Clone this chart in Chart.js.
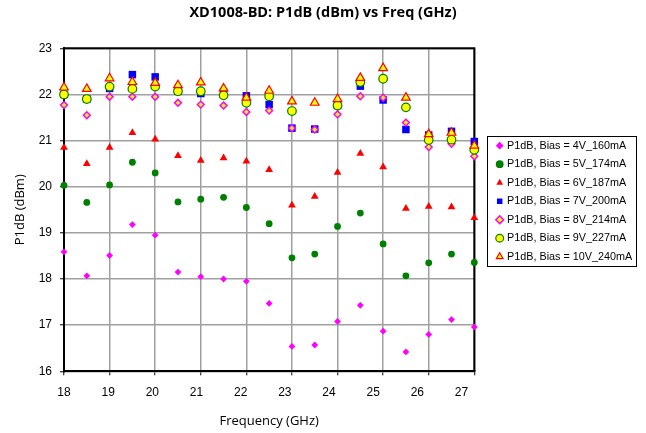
<!DOCTYPE html>
<html><head><meta charset="utf-8">
<script src="https://cdn.jsdelivr.net/npm/chart.js@4.4.1/dist/chart.umd.min.js"></script>
<style>html,body{margin:0;padding:0;background:#fff;}#wrap{width:646px;height:433px;}</style>
</head><body><div id="wrap"><canvas id="c" width="646" height="433"></canvas></div>
<script>
// ---- data ----
const freqGHz = [18, 18.5, 19, 19.5, 20, 20.5, 21, 21.5, 22, 22.5, 23, 23.5, 24, 24.5, 25, 25.5, 26, 26.5, 27];
const p1dB_4V  = [18.59, 18.07, 18.51, 19.18, 18.95, 18.15, 18.05, 18.00, 17.95, 17.47, 16.54, 16.57, 17.08, 17.43, 16.87, 16.42, 16.80, 17.12, 16.96];
const p1dB_5V  = [20.03, 19.66, 20.04, 20.53, 20.30, 19.67, 19.73, 19.77, 19.55, 19.20, 18.46, 18.54, 19.14, 19.43, 18.76, 18.07, 18.35, 18.54, 18.36];
const p1dB_6V  = [20.85, 20.50, 20.85, 21.17, 21.03, 20.67, 20.57, 20.62, 20.55, 20.37, 19.60, 19.79, 20.31, 20.72, 20.43, 19.53, 19.57, 19.56, 19.33];
const p1dB_7V  = [22.00, 21.90, 22.13, 22.43, 22.38, 22.07, 22.02, 22.05, 21.97, 21.78, 21.27, 21.25, 21.76, 22.18, 21.88, 21.24, 21.12, 21.20, 20.98];
const p1dB_8V  = [21.77, 21.55, 21.95, 21.95, 21.95, 21.82, 21.78, 21.76, 21.62, 21.65, 21.27, 21.24, 21.57, 21.96, 21.93, 21.39, 20.86, 20.93, 20.66];
const p1dB_9V  = [22.00, 21.90, 22.17, 22.12, 22.17, 22.07, 22.07, 21.98, 21.82, 21.96, 21.64, null, 21.76, 22.27, 22.34, 21.72, 21.01, 21.02, 20.80];
const p1dB_10V = [22.15, 22.12, 22.35, 22.27, 22.25, 22.20, 22.26, 22.13, 21.93, 22.08, 21.85, 21.82, 21.90, 22.36, 22.57, 21.93, 21.14, 21.17, 20.89];
const seriesLabels = [
  'P1dB, Bias = 4V_160mA', 'P1dB, Bias = 5V_174mA', 'P1dB, Bias = 6V_187mA', 'P1dB, Bias = 7V_200mA',
  'P1dB, Bias = 8V_214mA', 'P1dB, Bias = 9V_227mA', 'P1dB, Bias = 10V_240mA'
];
const xTickValues = [18, 19, 20, 21, 22, 23, 24, 25, 26, 27];
const yTickValues = [16, 17, 18, 19, 20, 21, 22, 23];
const chartTitle = 'XD1008-BD: P1dB (dBm) vs Freq (GHz)';
const xTitle = 'Frequency (GHz)';
const yTitle = 'P1dB (dBm)';

// ---- styling ----
const seriesValues = [p1dB_4V, p1dB_5V, p1dB_6V, p1dB_7V, p1dB_8V, p1dB_9V, p1dB_10V];
const markerStyles = [
  {ps: 'rectRot',  r: 3.4, bg: '#FF00FF', bc: '#FF00FF', bw: 0},
  {ps: 'circle',   r: 3.4, bg: '#008000', bc: '#008000', bw: 0},
  {ps: 'triangle', r: 4.5, bg: '#FF0000', bc: '#FF0000', bw: 0},
  {ps: 'rect',     r: 5.3, bg: '#0000FF', bc: '#0000FF', bw: 0},
  {ps: 'rectRot',  r: 3.4, bg: '#FFFF00', bc: '#FF00FF', bw: 1.5},
  {ps: 'circle',   r: 4.3, bg: '#FFFF00', bc: '#008000', bw: 1.2},
  {ps: 'triangle', r: 5.0, bg: '#FFFF00', bc: '#FF0000', bw: 1.2}
];
const tickFont = {family: "'Liberation Sans', Arial, sans-serif", size: 12};
const titleFamily = "'Open Sans', 'Liberation Sans', sans-serif";

const datasets = seriesValues.map((vals, i) => {
  const s = markerStyles[i];
  return {
    label: seriesLabels[i],
    data: freqGHz.map((f, k) => ({x: f, y: vals[k]})),
    showLine: false,
    pointStyle: s.ps,
    pointRadius: s.r,
    pointHoverRadius: s.r,
    backgroundColor: s.bg,
    borderColor: s.bc,
    pointBackgroundColor: s.bg,
    pointBorderColor: s.bc,
    pointBorderWidth: s.bw,
    borderWidth: s.bw,
    order: seriesValues.length - 1 - i,
    clip: false
  };
});

const LEGEND_W = 171.7;
const framePlugin = {
  id: 'frame',
  beforeLayout(chart) {
    const lg = chart.legend;
    if (lg && !lg._fixedW) {
      const orig = lg.fit.bind(lg);
      lg.fit = function () { orig(); this.width = LEGEND_W; };
      lg._fixedW = true;
    }
  },
  afterLayout(chart) {
    const lg = chart.legend;
    if (lg) { lg.left = 490; lg.top = 132.6; }
  },
  beforeDatasetsDraw(chart) {
    const {ctx, chartArea: a} = chart;
    ctx.save();
    ctx.strokeStyle = '#000';
    ctx.lineWidth = 2;
    ctx.beginPath();
    ctx.moveTo(a.left, a.top); ctx.lineTo(a.right, a.top); ctx.lineTo(a.right, a.bottom);
    ctx.stroke();
    ctx.restore();
  },
  afterDraw(chart) {
    const lg = chart.legend;
    if (!lg || !lg.legendHitBoxes || !lg.legendHitBoxes.length) return;
    const hb = lg.legendHitBoxes;
    let right = 0;
    hb.forEach(h => { right = Math.max(right, h.left + h.width); });
    const left = hb[0].left - 11, top = hb[0].top - 4;
    const last = hb[hb.length - 1];
    const bottom = last.top + last.height + 4.3;
    const ctx = chart.ctx;
    ctx.save();
    ctx.strokeStyle = '#000';
    ctx.lineWidth = 1;
    ctx.strokeRect(Math.round(left) + 0.5, Math.round(top) + 0.5, Math.round(right + 3 - left), Math.round(bottom - top));
    ctx.restore();
  }
};

new Chart(document.getElementById('c'), {
  type: 'scatter',
  data: {datasets},
  options: {
    responsive: false,
    animation: false,
    events: [],
    layout: {padding: {left: 0, right: 0, top: 0, bottom: 0}},
    plugins: {
      tooltip: {enabled: false},
      title: {
        display: true, text: chartTitle, color: '#000',
        font: {family: titleFamily, size: 14.5, weight: 'bold', lineHeight: 1.2},
        padding: {top: 4.6, bottom: 26.3}
      },
      legend: {
        display: true, position: 'right', align: 'start',
        labels: {
          usePointStyle: true, boxWidth: 4, boxHeight: 5.5, padding: 7.7, color: '#000',
          font: {family: "'Liberation Sans', Arial, sans-serif", size: 10.8},
          sort: (a, b) => a.datasetIndex - b.datasetIndex
        }
      }
    },
    scales: {
      x: {
        type: 'linear', position: 'bottom', weight: 0, min: 18, max: 27,
        grid: {color: '#a0a0a0', lineWidth: 1.5, tickLength: 4, tickColor: '#000', tickWidth: 1},
        border: {color: '#000', width: 2},
        ticks: {display: false, stepSize: 1},
        afterBuildTicks: s => { s.ticks = xTickValues.map(v => ({value: v})); },
        afterFit: s => { s.height = 4; }
      },
      xl: {
        type: 'linear', position: 'bottom', weight: 1, min: 18, max: 27.29,
        grid: {display: false, drawTicks: false},
        border: {display: false},
        ticks: {stepSize: 1, includeBounds: false, padding: 10.5, color: '#000', font: tickFont, maxRotation: 0, autoSkip: false},
        title: {display: true, text: xTitle, color: '#000', font: {family: titleFamily, size: 13}, padding: {top: 0, bottom: 4.2}},
        afterBuildTicks: s => { s.ticks = xTickValues.map(v => ({value: v})); },
        afterFit: s => { s.height = 57.7; }
      },
      y: {
        type: 'linear', position: 'left', min: 16, max: 23,
        grid: {color: '#a0a0a0', lineWidth: 1.5, tickLength: 4, tickColor: '#000', tickWidth: 1},
        border: {color: '#000', width: 2},
        ticks: {stepSize: 1, padding: 8, color: '#000', font: tickFont},
        title: {display: true, text: yTitle, color: '#000', font: {family: titleFamily, size: 13}, padding: {top: 12.9, bottom: 0}},
        afterBuildTicks: s => { s.ticks = yTickValues.map(v => ({value: v})); },
        afterFit: s => { s.width = 64; }
      }
    }
  },
  plugins: [framePlugin]
});
</script>
</body></html>
